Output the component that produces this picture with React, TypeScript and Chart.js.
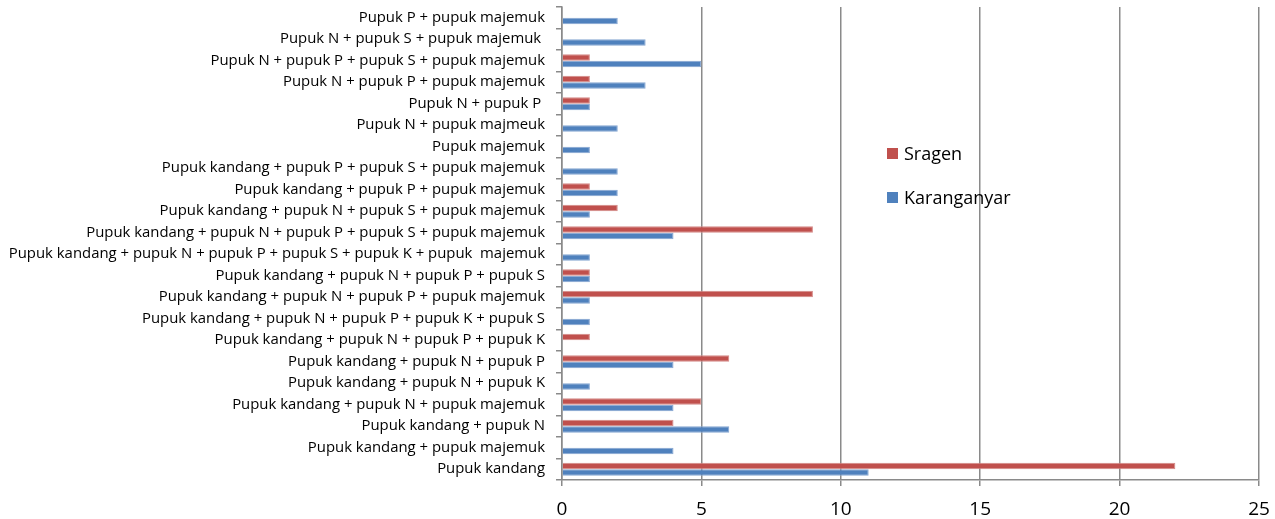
import React, { useEffect, useRef } from "react";
import { Chart, registerables } from "chart.js";

Chart.register(...registerables);

const categories: string[] = [
  "Pupuk P + pupuk majemuk",
  "Pupuk N + pupuk S + pupuk majemuk ",
  "Pupuk N + pupuk P + pupuk S + pupuk majemuk",
  "Pupuk N + pupuk P + pupuk majemuk",
  "Pupuk N + pupuk P ",
  "Pupuk N + pupuk majmeuk",
  "Pupuk majemuk",
  "Pupuk kandang + pupuk P + pupuk S + pupuk majemuk",
  "Pupuk kandang + pupuk P + pupuk majemuk",
  "Pupuk kandang + pupuk N + pupuk S + pupuk majemuk",
  "Pupuk kandang + pupuk N + pupuk P + pupuk S + pupuk majemuk",
  "Pupuk kandang + pupuk N + pupuk P + pupuk S + pupuk K + pupuk  majemuk",
  "Pupuk kandang + pupuk N + pupuk P + pupuk S",
  "Pupuk kandang + pupuk N + pupuk P + pupuk majemuk",
  "Pupuk kandang + pupuk N + pupuk P + pupuk K + pupuk S",
  "Pupuk kandang + pupuk N + pupuk P + pupuk K",
  "Pupuk kandang + pupuk N + pupuk P",
  "Pupuk kandang + pupuk N + pupuk K",
  "Pupuk kandang + pupuk N + pupuk majemuk",
  "Pupuk kandang + pupuk N",
  "Pupuk kandang + pupuk majemuk",
  "Pupuk kandang",
];

const sragen: number[] = [0, 0, 1, 1, 1, 0, 0, 0, 1, 2, 9, 0, 1, 9, 0, 1, 6, 0, 5, 4, 0, 22];
const karanganyar: number[] = [2, 3, 5, 3, 1, 2, 1, 2, 2, 1, 4, 1, 1, 1, 1, 0, 4, 1, 4, 6, 4, 11];

const xTicks: number[] = [0, 5, 10, 15, 20, 25];

const seriesNames = ["Sragen", "Karanganyar"];
const seriesColors = ["#C0504D", "#4F81BD"];
const seriesBorders = ["#D48A88", "#86A6D2"];

const FONT = "'Open Sans', 'Liberation Sans', sans-serif";

export default function App() {
  const canvasRef = useRef<HTMLCanvasElement | null>(null);

  useEffect(() => {
    if (!canvasRef.current) return;
    const chart = new Chart(canvasRef.current, {
      type: "bar",
      data: {
        labels: categories,
        datasets: [
          {
            label: seriesNames[0],
            data: sragen,
            backgroundColor: seriesColors[0],
            borderColor: seriesBorders[0],
            borderWidth: 1,
            borderSkipped: "left",
            barPercentage: 1,
            categoryPercentage: 0.6,
          },
          {
            label: seriesNames[1],
            data: karanganyar,
            backgroundColor: seriesColors[1],
            borderColor: seriesBorders[1],
            borderWidth: 1,
            borderSkipped: "left",
            barPercentage: 1,
            categoryPercentage: 0.6,
          },
        ],
      },
      options: {
        indexAxis: "y",
        responsive: false,
        animation: false,
        devicePixelRatio: 1,
        layout: { padding: { top: 7, right: 16, left: 0, bottom: 0 } },
        plugins: {
          legend: { display: false },
          tooltip: { enabled: false },
        },
        scales: {
          x: {
            type: "linear",
            min: 0,
            max: 25,
            afterBuildTicks: (scale: any) => {
              scale.ticks = xTicks.map((v) => ({ value: v }));
            },
            afterFit: (scale: any) => {
              scale.height = 39;
              scale.paddingLeft = 0;
              scale.paddingRight = 0;
            },
            grid: {
              color: "#8A8A8A",
              lineWidth: 1.5,
              drawTicks: true,
              tickLength: 6,
              tickColor: "#8A8A8A",
            },
            border: { color: "#8A8A8A", width: 1.5 },
            ticks: {
              color: "#000",
              padding: 12,
              font: { family: FONT, size: 19 },
            },
          },
          y: {
            type: "category",
            afterFit: (scale: any) => {
              scale.width = 562;
              scale.paddingTop = 0;
              scale.paddingBottom = 0;
            },
            grid: {
              offset: true,
              drawOnChartArea: false,
              drawTicks: true,
              tickLength: 6,
              color: "#8A8A8A",
              lineWidth: 1.5,
            },
            border: { color: "#8A8A8A", width: 1.5 },
            ticks: {
              color: "#000",
              padding: 11,
              autoSkip: false,
              font: { family: FONT, size: 14.9 },
            },
          },
        },
      },
    });
    return () => chart.destroy();
  }, []);

  const legendTops = [153, 197];

  return (
    <div style={{ position: "fixed", left: 0, top: 0, width: 1275, height: 519, background: "#fff" }}>
      <canvas ref={canvasRef} width={1275} height={519} style={{ display: "block" }} />
      {seriesNames.map((name, i) => (
        <div
          key={name}
          style={{
            position: "absolute",
            left: 887,
            top: legendTops[i] - 12,
            height: 24,
            display: "flex",
            alignItems: "center",
            fontFamily: FONT,
            fontSize: 18,
            color: "#000",
            whiteSpace: "nowrap",
          }}
        >
          <span
            style={{
              display: "inline-block",
              width: 11,
              height: 11,
              background: seriesColors[i],
              marginRight: 6,
            }}
          />
          {name}
        </div>
      ))}
    </div>
  );
}
